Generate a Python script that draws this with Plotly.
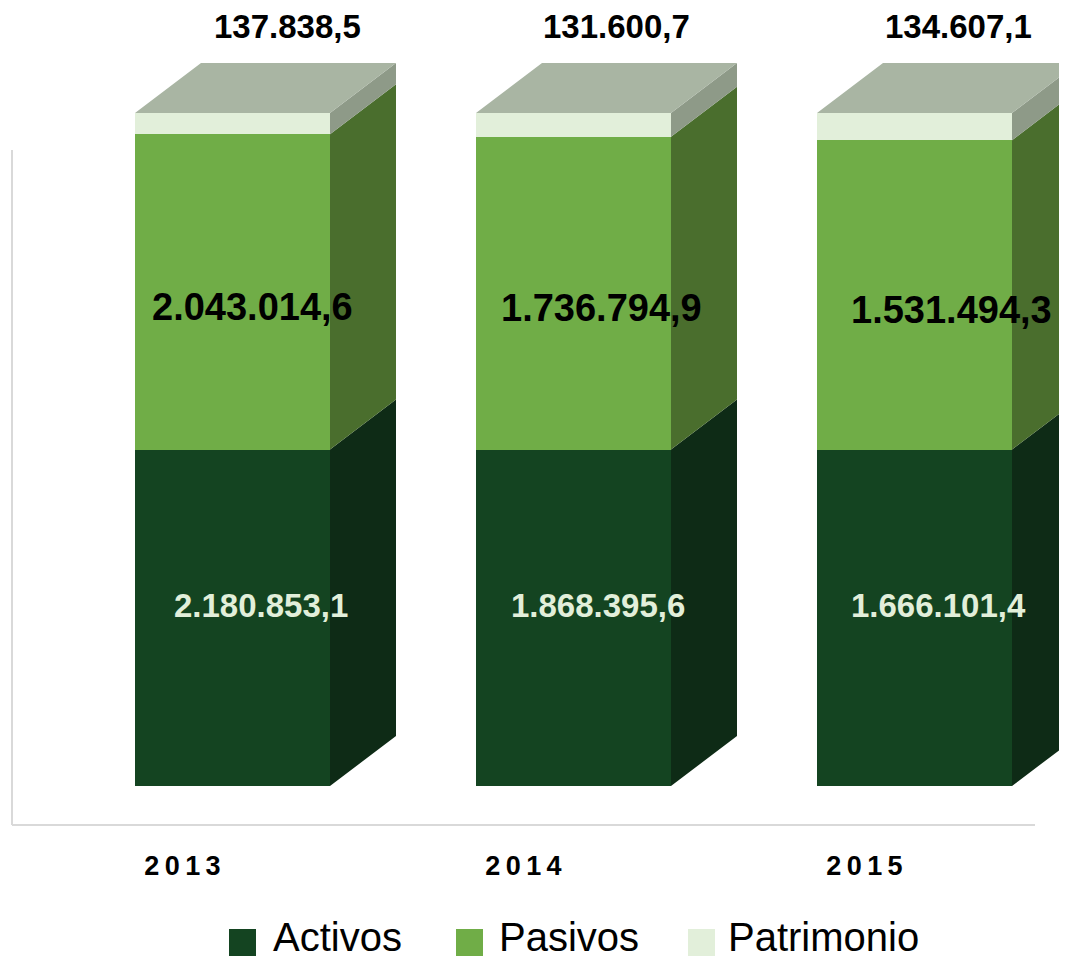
import plotly.graph_objects as go

# ---------------- data ----------------
YEARS = ["2013", "2014", "2015"]
SERIES = ["Activos", "Pasivos", "Patrimonio"]
ACTIVOS = [2180853.1, 1868395.6, 1666101.4]
PASIVOS = [2043014.6, 1736794.9, 1531494.3]
PATRIMONIO = [137838.5, 131600.7, 134607.1]

# ---------------- style ----------------
FRONT = ["#144421", "#70ad47", "#e2efda"]
SIDE = ["#0e2b16", "#4a6e2d", "#8e9a88"]
TOP_COLOR = "#a9b5a3"
LABEL_COLORS = ["#e2efda", "#000000", "#000000"]
LABEL_SIZES = [33, 38, 33]
FONT = "Liberation Sans, Arial, sans-serif"
AXIS_COLOR = "#d9d9d9"

# the page body adds an 8px margin; all layout pixel values below are page pixels
OFF = 8
W, H = 1067 - OFF, 960 - OFF
PLOT_L, PLOT_R, PLOT_T, PLOT_B = 10, 1067, 8, 830      # plot area (page px)
CAT_PX, CAT0_PX = 341.0, 182.5                           # category spacing / first center
BASE_PX, FULL_PX = 786.0, 113.0                          # page pixel of 0% and 100%
PX_PER_PCT = (BASE_PX - FULL_PX) / 100.0

BAR_OFFSET = (135 - CAT0_PX) / CAT_PX
BAR_WIDTH = 195 / CAT_PX
DX = 66 / CAT_PX
DY = 50 / PX_PER_PCT

X_RANGE = [(PLOT_L - CAT0_PX) / CAT_PX, (PLOT_R - CAT0_PX) / CAT_PX]
Y_RANGE = [(BASE_PX - PLOT_B) / PX_PER_PCT, (BASE_PX - PLOT_T) / PX_PER_PCT]
AXIS_Y = (BASE_PX - 825) / PX_PER_PCT
AXIS_TOP = (BASE_PX - 150) / PX_PER_PCT

# label nudges (px from category centre) per series and year
LABEL_XSHIFT = [[78.5, 74.5, 73.5], [70, 78, 86.5], [105, 92.5, 94]]
LABEL_YSHIFT = [12, -15, 87]


def fmt(v):
    s = f"{v:,.1f}"
    return s.replace(",", "X").replace(".", ",").replace("X", ".")


def px_x(px):
    return (px - PLOT_L) / (PLOT_R - PLOT_L)


def px_y(px):
    return (PLOT_B - px) / (PLOT_B - PLOT_T)


values = [ACTIVOS, PASIVOS, PATRIMONIO]
xs = list(range(len(YEARS)))
totals = [sum(v[i] for v in values) for i in xs]
pcts = [[v[i] / totals[i] * 100 for i in xs] for v in values]

fig = go.Figure()

# front faces
for k, name in enumerate(SERIES):
    fig.add_trace(go.Bar(
        x=xs, y=values[k], name=name,
        marker=dict(color=FRONT[k], line=dict(width=0)),
        offset=BAR_OFFSET, width=BAR_WIDTH,
        hoverinfo="skip", showlegend=False,
    ))

# side faces
for k, name in enumerate(SERIES):
    px_, py_ = [], []
    for i in xs:
        y0 = sum(pcts[j][i] for j in range(k))
        y1 = y0 + pcts[k][i]
        xr = i + BAR_OFFSET + BAR_WIDTH
        px_ += [xr, xr + DX, xr + DX, xr, xr, None]
        py_ += [y0, y0 + DY, y1 + DY, y1, y0, None]
    fig.add_trace(go.Scatter(
        x=px_, y=py_, mode="lines", fill="toself",
        fillcolor=SIDE[k], line=dict(width=0, color=SIDE[k]),
        hoverinfo="skip", showlegend=False,
    ))

# top faces
tx, ty = [], []
for i in xs:
    top = sum(pcts[j][i] for j in range(len(SERIES)))
    xl = i + BAR_OFFSET
    xr = xl + BAR_WIDTH
    tx += [xl, xr, xr + DX, xl + DX, xl, None]
    ty += [top, top, top + DY, top + DY, top, None]
fig.add_trace(go.Scatter(
    x=tx, y=ty, mode="lines", fill="toself",
    fillcolor=TOP_COLOR, line=dict(width=0, color=TOP_COLOR),
    hoverinfo="skip", showlegend=False,
))

annotations = []
# data labels
for k in range(len(SERIES)):
    for i in xs:
        y0 = sum(pcts[j][i] for j in range(k))
        if k == len(SERIES) - 1:
            y = y0 + pcts[k][i]
        else:
            y = y0 + pcts[k][i] / 2
        annotations.append(dict(
            x=i, y=y, xref="x", yref="y", text=fmt(values[k][i]),
            showarrow=False, xshift=LABEL_XSHIFT[k][i], yshift=LABEL_YSHIFT[k],
            font=dict(family=FONT, size=LABEL_SIZES[k], color=LABEL_COLORS[k], weight="bold"),
        ))

# axis lines and custom legend
shapes = [
    dict(type="line", xref="x", yref="y", x0=-0.5, x1=-0.5, y0=AXIS_Y, y1=AXIS_TOP,
         line=dict(color=AXIS_COLOR, width=2), layer="below"),
    dict(type="line", xref="x", yref="y", x0=-0.5, x1=len(YEARS) - 0.5, y0=AXIS_Y, y1=AXIS_Y,
         line=dict(color=AXIS_COLOR, width=2), layer="below"),
]
LEG_SQ_X = [229, 456, 688]
LEG_TEXT_X = [271, 497, 726]
LEG_SQ = 27
LEG_SQ_Y = 929
for k, name in enumerate(SERIES):
    shapes.append(dict(
        type="rect", xref="paper", yref="paper",
        x0=px_x(LEG_SQ_X[k]), x1=px_x(LEG_SQ_X[k] + LEG_SQ),
        y0=px_y(LEG_SQ_Y), y1=px_y(LEG_SQ_Y + LEG_SQ),
        fillcolor=FRONT[k], line=dict(width=0),
    ))
    annotations.append(dict(
        x=px_x(LEG_TEXT_X[k]), y=px_y(936.5), xref="paper", yref="paper",
        xanchor="left", yanchor="middle", text=name, showarrow=False,
        font=dict(family=FONT, size=40, color="#000000"),
    ))

fig.update_layout(
    width=W, height=H,
    margin=dict(l=PLOT_L - OFF, r=1067 - PLOT_R, t=PLOT_T - OFF, b=960 - PLOT_B),
    barmode="stack", barnorm="percent",
    plot_bgcolor="white", paper_bgcolor="white",
    showlegend=False,
    xaxis=dict(
        range=X_RANGE, tickvals=xs,
        ticktext=["\u2009".join(y) for y in YEARS],
        showgrid=False, zeroline=False, showline=False, ticks="",
        ticklabelstandoff=17,
        tickfont=dict(family=FONT, size=27, color="#000000", weight="bold"),
        fixedrange=True,
    ),
    yaxis=dict(range=Y_RANGE, visible=False, fixedrange=True),
    shapes=shapes,
    annotations=annotations,
)

fig.write_html("out.html")
